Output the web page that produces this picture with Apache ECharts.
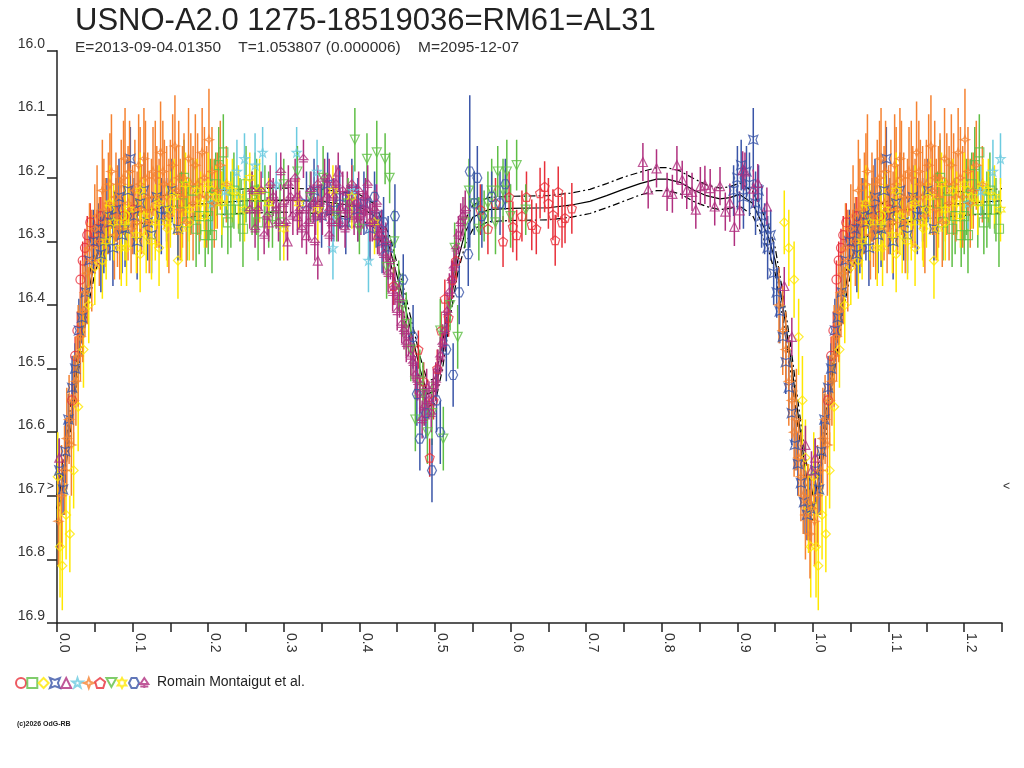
<!DOCTYPE html>
<html>
<head>
<meta charset="utf-8">
<title>USNO-A2.0 1275-18519036</title>
<script src="https://cdn.jsdelivr.net/npm/echarts@6/dist/echarts.min.js"></script>
<style>
  html, body { margin: 0; padding: 0; background: #fff; }
  #chart { width: 1024px; height: 768px; }
</style>
</head>
<body>
<div id="chart"></div>
<script>
// each point: [phase, magnitude, error]
const redCircle = [
  [0.020,16.55,0.03],[0.024,16.48,0.03],[0.027,16.44,0.03],[0.031,16.36,0.03],[0.034,16.33,0.03],
  [0.037,16.31,0.03],[0.040,16.29,0.03],[0.044,16.27,0.03],[0.048,16.30,0.03],[0.053,16.28,0.03],
  [0.058,16.26,0.03],[0.066,16.27,0.03],[0.075,16.25,0.03],[0.088,16.26,0.03],[0.101,16.25,0.03]
];
const greenSquare = [
  [0.165,16.24,0.05],[0.168,16.20,0.06],[0.172,16.27,0.06],[0.180,16.22,0.05],[0.184,16.28,0.06],
  [0.188,16.26,0.06],[0.196,16.29,0.05],[0.200,16.26,0.06],[0.203,16.23,0.06],[0.205,16.29,0.06],
  [0.210,16.21,0.05],[0.214,16.18,0.06],[0.218,16.25,0.06],[0.220,16.16,0.06],[0.226,16.27,0.05],
  [0.230,16.25,0.06],[0.234,16.22,0.06],[0.242,16.25,0.05],[0.246,16.28,0.06],[0.250,16.21,0.06],
  [0.258,16.24,0.05],[0.262,16.22,0.06],[0.264,16.23,0.06],[0.266,16.27,0.06],[0.275,16.23,0.05],
  [0.280,16.25,0.06],[0.285,16.26,0.05],[0.295,16.27,0.06]
];
const yellowDiamond = [
  [0.001,16.67,0.07],[0.004,16.78,0.08],[0.007,16.81,0.07],[0.012,16.73,0.07],[0.017,16.76,0.06],
  [0.022,16.66,0.06],[0.028,16.56,0.07],[0.035,16.47,0.06],[0.042,16.40,0.06],[0.050,16.34,0.06],
  [0.060,16.33,0.06],[0.092,16.31,0.06],[0.110,16.32,0.06],[0.118,16.29,0.06],[0.135,16.31,0.06],
  [0.146,16.28,0.06],[0.160,16.33,0.06],[0.175,16.27,0.06],[0.205,16.22,0.05],
  [0.962,16.27,0.05],[0.968,16.31,0.06],[0.975,16.36,0.06],[0.981,16.45,0.06],[0.986,16.55,0.07],
  [0.990,16.64,0.06],[0.994,16.72,0.07],[0.997,16.78,0.08]
];
const blueCross = [
  [0.003,16.66,0.05],[0.008,16.69,0.04],[0.011,16.63,0.05],[0.015,16.58,0.04],[0.020,16.53,0.05],
  [0.024,16.50,0.04],[0.029,16.44,0.05],[0.033,16.42,0.04],[0.038,16.38,0.05],[0.043,16.33,0.04],
  [0.048,16.30,0.05],[0.055,16.28,0.04],[0.058,16.32,0.06],[0.062,16.30,0.05],[0.066,16.26,0.06],
  [0.070,16.27,0.06],[0.074,16.31,0.06],[0.078,16.25,0.05],[0.082,16.23,0.06],[0.086,16.29,0.06],
  [0.090,16.28,0.06],[0.094,16.22,0.05],[0.097,16.17,0.05],[0.102,16.26,0.06],[0.106,16.30,0.06],
  [0.110,16.24,0.05],[0.115,16.22,0.06],[0.120,16.27,0.06],[0.125,16.29,0.06],[0.132,16.23,0.05],
  [0.138,16.26,0.06],[0.145,16.25,0.05],[0.152,16.22,0.05],[0.160,16.28,0.05],
  [0.330,16.24,0.05],[0.340,16.22,0.05],[0.350,16.26,0.05],[0.358,16.21,0.05],[0.366,16.25,0.05],
  [0.374,16.23,0.05],[0.382,16.27,0.05],[0.390,16.22,0.05],[0.398,16.25,0.05],[0.406,16.24,0.05],
  [0.414,16.28,0.05],[0.422,16.26,0.05],[0.430,16.30,0.05],[0.438,16.31,0.05],
  [0.895,16.22,0.04],[0.900,16.20,0.05],[0.905,16.18,0.04],[0.908,16.23,0.05],[0.912,16.19,0.04],
  [0.916,16.21,0.05],[0.921,16.14,0.05],[0.924,16.24,0.05],[0.928,16.22,0.04],[0.932,16.26,0.05],
  [0.936,16.28,0.04],[0.940,16.31,0.05],[0.944,16.29,0.04],[0.948,16.35,0.05],[0.952,16.38,0.04],
  [0.956,16.41,0.05],[0.960,16.45,0.04],[0.964,16.49,0.05],[0.968,16.53,0.04],[0.972,16.57,0.05],
  [0.976,16.62,0.04],[0.980,16.65,0.05],[0.984,16.68,0.04],[0.988,16.71,0.05],[0.992,16.73,0.04],
  [0.996,16.72,0.05]
];
const purpleTriangle = [
  [0.003,16.64,0.03],
  [0.280,16.27,0.03],[0.290,16.24,0.03],[0.305,16.30,0.03],[0.318,16.26,0.03],[0.330,16.29,0.03],
  [0.345,16.33,0.03],[0.360,16.20,0.03],[0.372,16.19,0.03],[0.384,16.22,0.03],[0.398,16.27,0.03],
  [0.410,16.25,0.03],[0.424,16.29,0.03],
  [0.775,16.175,0.03],[0.782,16.218,0.03],[0.793,16.185,0.03],[0.807,16.222,0.03],[0.814,16.225,0.03],
  [0.820,16.180,0.03],[0.827,16.203,0.03],[0.833,16.219,0.03],[0.840,16.222,0.03],[0.845,16.250,0.03],
  [0.851,16.213,0.03],[0.857,16.211,0.03],[0.864,16.216,0.03],[0.870,16.245,0.03],[0.877,16.213,0.03],
  [0.884,16.253,0.03],[0.890,16.239,0.03],[0.896,16.277,0.03],[0.903,16.251,0.03],[0.907,16.188,0.03],
  [0.910,16.190,0.03],[0.921,16.217,0.03],[0.927,16.208,0.03],[0.939,16.245,0.03],[0.962,16.37,0.03],
  [0.972,16.45,0.03],[0.990,16.62,0.03],[0.998,16.66,0.03]
];
const cyanStar = [
  [0.205,16.24,0.04],[0.222,16.22,0.04],[0.238,16.19,0.05],[0.248,16.17,0.04],[0.262,16.18,0.05],
  [0.272,16.16,0.04],[0.290,16.21,0.05],[0.317,16.16,0.04],[0.344,16.19,0.05],[0.365,16.31,0.05],
  [0.392,16.22,0.04],[0.412,16.33,0.05]
];
const orangeStar = [
  [0.002,16.74,0.07],[0.006,16.70,0.08],[0.010,16.66,0.07],[0.013,16.61,0.08],[0.016,16.58,0.07],
  [0.019,16.62,0.08],[0.022,16.55,0.07],[0.025,16.52,0.07],[0.028,16.48,0.08],[0.031,16.45,0.07],
  [0.034,16.41,0.08],[0.037,16.38,0.07],[0.040,16.35,0.08],[0.043,16.31,0.07],[0.046,16.33,0.08],
  [0.050,16.28,0.07],[0.053,16.26,0.08],[0.056,16.30,0.07],
  [0.060,16.22,0.08],[0.062,16.25,0.08],[0.064,16.27,0.07],[0.068,16.24,0.08],[0.070,16.21,0.08],
  [0.072,16.19,0.09],[0.076,16.29,0.07],[0.078,16.23,0.07],[0.080,16.26,0.08],[0.083,16.28,0.08],
  [0.085,16.21,0.07],[0.088,16.20,0.09],[0.090,16.17,0.08],[0.094,16.24,0.09],[0.096,16.19,0.08],
  [0.098,16.28,0.07],[0.100,16.25,0.07],[0.103,16.22,0.08],[0.106,16.27,0.08],[0.108,16.18,0.08],
  [0.110,16.21,0.09],[0.112,16.25,0.07],[0.115,16.17,0.08],[0.117,16.20,0.09],[0.120,16.23,0.07],
  [0.122,16.27,0.08],[0.125,16.25,0.08],[0.127,16.19,0.07],[0.130,16.20,0.09],[0.132,16.23,0.08],
  [0.135,16.24,0.07],[0.137,16.16,0.08],[0.140,16.19,0.08],[0.142,16.21,0.07],[0.145,16.23,0.08],
  [0.148,16.26,0.09],[0.150,16.21,0.07],[0.153,16.18,0.08],[0.156,16.15,0.08],[0.158,16.22,0.07],
  [0.161,16.20,0.09],[0.163,16.25,0.08],[0.166,16.23,0.08],[0.168,16.20,0.07],[0.171,16.27,0.07],
  [0.174,16.17,0.08],[0.177,16.21,0.08],[0.180,16.24,0.09],[0.183,16.18,0.08],[0.186,16.21,0.08],
  [0.189,16.23,0.07],[0.192,16.16,0.07],[0.195,16.20,0.08],[0.198,16.23,0.08],[0.201,16.14,0.08],
  [0.205,16.19,0.07],[0.208,16.24,0.07],[0.212,16.22,0.06],[0.216,16.18,0.07],[0.224,16.21,0.06],
  [0.955,16.40,0.06],[0.960,16.44,0.07],[0.964,16.47,0.06],[0.968,16.52,0.07],[0.972,16.55,0.06],
  [0.975,16.60,0.07],[0.978,16.58,0.08],[0.981,16.64,0.06],[0.984,16.67,0.07],[0.987,16.70,0.06],
  [0.990,16.73,0.07],[0.993,16.71,0.06],[0.996,16.76,0.07],[0.998,16.72,0.06]
];
const redPentagon = [
  [0.445,16.37,0.03],[0.478,16.47,0.03],[0.485,16.52,0.03],[0.493,16.64,0.03],[0.498,16.55,0.03],
  [0.503,16.50,0.03],[0.508,16.44,0.03],[0.513,16.39,0.03],[0.518,16.42,0.03],[0.523,16.36,0.03],
  [0.528,16.33,0.03],[0.560,16.25,0.04],[0.570,16.28,0.04],[0.580,16.24,0.04],[0.590,16.30,0.04],
  [0.598,16.23,0.04],[0.603,16.277,0.04],[0.608,16.29,0.04],[0.615,16.26,0.04],[0.621,16.23,0.04],
  [0.628,16.274,0.04],[0.634,16.28,0.04],[0.639,16.224,0.04],[0.645,16.214,0.04],[0.650,16.24,0.04],
  [0.656,16.258,0.04],[0.659,16.298,0.04],[0.663,16.222,0.04],[0.668,16.27,0.04],[0.672,16.263,0.04],
  [0.681,16.248,0.04]
];
const greenTriangleDown = [
  [0.300,16.21,0.04],[0.318,16.19,0.04],[0.335,16.23,0.04],[0.352,16.20,0.05],[0.370,16.26,0.04],
  [0.385,16.24,0.04],[0.394,16.14,0.05],[0.400,16.28,0.04],[0.410,16.17,0.04],[0.423,16.16,0.05],
  [0.434,16.17,0.04],[0.440,16.20,0.04],[0.436,16.34,0.05],[0.446,16.30,0.05],[0.452,16.37,0.04],
  [0.457,16.40,0.05],[0.462,16.43,0.05],[0.468,16.47,0.05],[0.474,16.58,0.05],[0.480,16.52,0.05],
  [0.484,16.54,0.05],[0.490,16.60,0.05],[0.496,16.57,0.05],[0.507,16.44,0.05],[0.511,16.61,0.05],
  [0.520,16.40,0.04],[0.526,16.31,0.04],[0.530,16.45,0.05],[0.540,16.27,0.04],[0.545,16.22,0.05],
  [0.552,16.24,0.05],[0.558,16.28,0.05],[0.565,16.26,0.04],[0.570,16.24,0.05],[0.575,16.22,0.05],
  [0.580,16.27,0.05],[0.583,16.19,0.04],[0.590,16.22,0.05],[0.595,16.19,0.05],[0.600,16.26,0.05],
  [0.608,16.18,0.04],[0.620,16.25,0.04]
];
const yellowSixStar = [
  [0.065,16.30,0.06],[0.070,16.24,0.06],[0.075,16.27,0.06],[0.085,16.31,0.06],[0.090,16.27,0.06],
  [0.095,16.25,0.06],[0.105,16.29,0.06],[0.110,16.22,0.06],[0.115,16.26,0.06],[0.125,16.30,0.06],
  [0.130,16.27,0.06],[0.135,16.24,0.06],[0.145,16.27,0.06],[0.150,16.25,0.06],[0.155,16.23,0.06],
  [0.165,16.28,0.05],[0.170,16.21,0.05],[0.175,16.25,0.05],[0.185,16.22,0.05],[0.190,16.24,0.05],
  [0.195,16.26,0.05],[0.200,16.21,0.05],[0.210,16.23,0.05],[0.218,16.24,0.05],[0.225,16.21,0.04],
  [0.232,16.22,0.05],[0.240,16.23,0.05],[0.248,16.25,0.05],[0.255,16.20,0.04],[0.262,16.23,0.05],
  [0.268,16.22,0.05],[0.280,16.24,0.04],[0.300,16.28,0.05],[0.320,16.24,0.04],[0.345,16.25,0.05],
  [0.365,16.22,0.04],[0.390,16.23,0.05],[0.420,16.27,0.05]
];
const blueHexagon = [
  [0.420,16.23,0.04],[0.432,16.27,0.04],[0.447,16.26,0.05],[0.458,16.36,0.04],[0.471,16.45,0.05],
  [0.476,16.54,0.05],[0.480,16.61,0.05],[0.488,16.57,0.04],[0.496,16.66,0.05],[0.502,16.55,0.05],
  [0.507,16.60,0.05],[0.515,16.47,0.05],[0.524,16.51,0.05],[0.532,16.38,0.05],[0.544,16.32,0.05],
  [0.546,16.19,0.12],[0.552,16.24,0.05],[0.556,16.20,0.05],[0.562,16.26,0.05],[0.575,16.23,0.04],
  [0.586,16.24,0.05],[0.593,16.21,0.04]
];
const purpleTree = [
  [0.255,16.25,0.03],[0.258,16.22,0.03],[0.262,16.28,0.03],[0.266,16.25,0.03],[0.270,16.22,0.03],
  [0.274,16.29,0.03],[0.278,16.26,0.03],[0.282,16.21,0.03],[0.286,16.23,0.03],[0.290,16.25,0.03],
  [0.293,16.27,0.03],[0.296,16.19,0.03],[0.300,16.24,0.03],[0.303,16.27,0.03],[0.306,16.21,0.03],
  [0.309,16.23,0.03],[0.312,16.26,0.03],[0.315,16.20,0.03],[0.318,16.23,0.03],[0.321,16.25,0.03],
  [0.324,16.28,0.03],[0.326,16.17,0.03],[0.330,16.25,0.03],[0.333,16.27,0.03],[0.336,16.22,0.03],
  [0.339,16.24,0.03],[0.341,16.30,0.03],[0.342,16.26,0.03],[0.345,16.21,0.03],[0.348,16.24,0.03],
  [0.351,16.26,0.03],[0.354,16.20,0.03],[0.357,16.23,0.03],[0.360,16.25,0.03],[0.360,16.29,0.03],
  [0.363,16.27,0.03],[0.366,16.23,0.03],[0.369,16.21,0.03],[0.372,16.27,0.03],[0.375,16.25,0.03],
  [0.378,16.22,0.03],[0.381,16.28,0.03],[0.384,16.25,0.03],[0.387,16.24,0.03],[0.390,16.21,0.03],
  [0.393,16.26,0.03],[0.396,16.24,0.03],[0.399,16.22,0.03],[0.402,16.26,0.03],[0.405,16.25,0.03],
  [0.408,16.23,0.03],[0.411,16.21,0.03],[0.414,16.27,0.03],[0.417,16.27,0.03],[0.420,16.25,0.03],
  [0.423,16.24,0.03],[0.426,16.29,0.03],[0.429,16.28,0.03],[0.432,16.32,0.03],[0.435,16.30,0.03],
  [0.438,16.35,0.03],[0.441,16.33,0.03],[0.444,16.38,0.03],[0.447,16.37,0.03],[0.450,16.41,0.03],
  [0.453,16.39,0.03],[0.456,16.43,0.03],[0.459,16.44,0.03],[0.462,16.46,0.03],[0.465,16.45,0.03],
  [0.468,16.48,0.03],[0.471,16.49,0.03],[0.474,16.51,0.03],[0.477,16.52,0.03],[0.480,16.54,0.03],
  [0.483,16.58,0.03],[0.486,16.56,0.03],[0.489,16.53,0.03],[0.492,16.55,0.03],[0.495,16.57,0.03],
  [0.498,16.53,0.03],[0.501,16.52,0.03],[0.504,16.50,0.03],[0.507,16.48,0.03],[0.510,16.46,0.03],
  [0.513,16.44,0.03],[0.516,16.41,0.03],[0.519,16.38,0.03],[0.522,16.36,0.03],[0.525,16.34,0.03],
  [0.528,16.31,0.03],[0.531,16.29,0.03],[0.534,16.27,0.03],[0.537,16.26,0.03],[0.540,16.25,0.03]
];

// fitted light curve and its band
const fitPhase = [0.000,0.010,0.020,0.030,0.040,0.050,0.060,0.070,0.080,0.100,0.150,0.200,0.250,0.300,0.350,
  0.400,0.420,0.440,0.460,0.480,0.490,0.500,0.510,0.520,0.530,0.540,0.550,0.570,0.600,0.650,0.679,0.705,
  0.727,0.749,0.771,0.793,0.807,0.824,0.842,0.859,0.877,0.890,0.903,0.920,0.940,0.950,0.960,0.970,0.980,
  0.990,1.000];
const fitMag = [16.720,16.650,16.560,16.470,16.390,16.330,16.295,16.275,16.265,16.255,16.245,16.240,16.236,16.235,16.237,
  16.245,16.260,16.310,16.400,16.500,16.540,16.535,16.480,16.400,16.330,16.285,16.262,16.250,16.248,16.247,16.243,16.237,
  16.228,16.218,16.209,16.202,16.202,16.207,16.219,16.228,16.233,16.231,16.226,16.240,16.290,16.330,16.400,16.480,16.570,
  16.660,16.720];
const fitUpper = [16.700,16.630,16.540,16.450,16.370,16.310,16.276,16.256,16.246,16.236,16.226,16.221,16.217,16.216,16.218,
  16.226,16.241,16.291,16.380,16.480,16.520,16.515,16.460,16.380,16.310,16.266,16.243,16.231,16.229,16.228,16.224,16.218,
  16.209,16.199,16.191,16.184,16.184,16.189,16.201,16.211,16.216,16.214,16.208,16.221,16.271,16.310,16.380,16.460,16.550,
  16.640,16.700];
const fitLower = [16.740,16.670,16.580,16.490,16.410,16.350,16.314,16.294,16.284,16.274,16.264,16.259,16.255,16.254,16.256,
  16.264,16.279,16.329,16.420,16.520,16.560,16.555,16.500,16.420,16.350,16.304,16.281,16.269,16.267,16.266,16.262,16.256,
  16.247,16.237,16.227,16.220,16.220,16.225,16.237,16.245,16.250,16.248,16.244,16.259,16.309,16.350,16.420,16.500,16.590,
  16.680,16.740];

const xTicks = [0.0,0.1,0.2,0.3,0.4,0.5,0.6,0.7,0.8,0.9,1.0,1.1,1.2];
const yTicks = [16.0,16.1,16.2,16.3,16.4,16.5,16.6,16.7,16.8,16.9];

const sets = [
  { name: 'S1',  data: redCircle,         color: '#e8303a', symbol: 'circle' },
  { name: 'S2',  data: greenSquare,       color: '#5fbf46', symbol: 'rect' },
  { name: 'S3',  data: yellowDiamond,     color: '#ffe800', symbol: 'diamond' },
  { name: 'S4',  data: blueCross,         color: '#3a55a8', symbol: 'path://M0,0L5,2L10,0L8,5L10,10L5,8L0,10L2,5Z' },
  { name: 'S5',  data: purpleTriangle,    color: '#b0307f', symbol: 'triangle' },
  { name: 'S6',  data: cyanStar,          color: '#6ccbe0', symbol: 'path://M5,0L6.2,3.6L10,3.6L7,5.9L8.1,9.5L5,7.3L1.9,9.5L3,5.9L0,3.6L3.8,3.6Z' },
  { name: 'S7',  data: orangeStar,        color: '#f58231', symbol: 'path://M5,0L6.3,3.7L10,5L6.3,6.3L5,10L3.7,6.3L0,5L3.7,3.7Z' },
  { name: 'S8',  data: redPentagon,       color: '#e8303a', symbol: 'path://M5,0L10,3.8L8.1,10L1.9,10L0,3.8Z' },
  { name: 'S9',  data: greenTriangleDown, color: '#5fbf46', symbol: 'path://M0,0L10,0L5,9Z' },
  { name: 'S10', data: yellowSixStar,     color: '#ffe800', symbol: 'path://M5,0L6.3,2.5L9.3,2.5L7.6,5L9.3,7.5L6.3,7.5L5,10L3.7,7.5L0.7,7.5L2.4,5L0.7,2.5L3.7,2.5Z' },
  { name: 'S11', data: blueHexagon,       color: '#3a55a8', symbol: 'path://M2.5,0L7.5,0L10,5L7.5,10L2.5,10L0,5Z' },
  { name: 'S12', data: purpleTree,        color: '#b0307f', symbol: 'path://M5,0L9,6L1,6Z M5,6L5,10 M1,8.5L9,8.5' }
];

// phases below 0.25 are shown again one cycle later
function fold(points) {
  return points.concat(points.filter(p => p[0] < 0.25).map(p => [p[0] + 1, p[1], p[2]]));
}
function foldCurve(mags) {
  const out = fitPhase.map((p, i) => [p, mags[i]]);
  fitPhase.forEach((p, i) => { if (p > 0 && p <= 0.25) out.push([p + 1, mags[i]]); });
  return out;
}

const FONT = 'Liberation Sans, Arial, sans-serif';
const chart = echarts.init(document.getElementById('chart'));

const series = [
  { type: 'line', data: foldCurve(fitMag), showSymbol: false, silent: true, clip: true,
    lineStyle: { color: '#000', width: 1.2 }, z: 1 },
  { type: 'line', data: foldCurve(fitUpper), showSymbol: false, silent: true, clip: true,
    lineStyle: { color: '#000', width: 1.2, type: [7, 3, 2, 3] }, z: 1 },
  { type: 'line', data: foldCurve(fitLower), showSymbol: false, silent: true, clip: true,
    lineStyle: { color: '#000', width: 1.2, type: [7, 3, 2, 3] }, z: 1 }
];

sets.forEach(s => {
  const pts = fold(s.data);
  series.push({
    type: 'custom',
    name: s.name + '-err',
    data: pts,
    encode: { x: 0, y: 1 },
    clip: true,
    silent: true,
    z: 2,
    renderItem: (params, api) => {
      const x = api.value(0), y = api.value(1), e = api.value(2);
      const a = api.coord([x, y - e]);
      const b = api.coord([x, y + e]);
      return { type: 'line', shape: { x1: a[0], y1: a[1], x2: b[0], y2: b[1] },
        style: { stroke: s.color, lineWidth: 1.5 } };
    }
  });
  series.push({
    type: 'scatter',
    name: s.name,
    data: pts,
    symbol: s.symbol,
    symbolSize: 9,
    clip: true,
    silent: true,
    z: 2,
    itemStyle: { color: 'rgba(0,0,0,0)', borderColor: s.color, borderWidth: 1.2 }
  });
});

chart.setOption({
  animation: false,
  backgroundColor: '#fff',
  grid: { left: 57, right: 22, top: 50.7, bottom: 145, containLabel: false },
  xAxis: {
    type: 'value',
    min: 0, max: 1.25, interval: 0.05,
    splitLine: { show: false },
    axisLine: { onZero: false, lineStyle: { color: '#222', width: 1.5 } },
    axisTick: { length: 9, lineStyle: { color: '#222', width: 1.5 } },
    axisLabel: {
      interval: 0, rotate: -90, margin: 10, verticalAlign: 'bottom',
      color: '#333', fontSize: 14, fontFamily: FONT,
      formatter: v => {
        const t = xTicks.find(k => Math.abs(k - v) < 1e-6);
        return t === undefined ? '' : t.toFixed(1);
      }
    }
  },
  yAxis: {
    type: 'value',
    inverse: true,
    min: 16.0, max: 16.9, interval: 0.1,
    splitLine: { show: false },
    axisLine: { onZero: false, lineStyle: { color: '#222', width: 1.5 } },
    axisTick: { length: 10, lineStyle: { color: '#222', width: 1.5 } },
    axisLabel: {
      margin: 12, verticalAlign: 'bottom', color: '#333', fontSize: 14, fontFamily: FONT,
      formatter: v => {
        const t = yTicks.find(k => Math.abs(k - v) < 1e-6);
        return t === undefined ? '' : t.toFixed(1);
      }
    }
  },
  legend: sets.map((s, i) => ({
    data: [s.name],
    left: 15 + i * 11.3,
    top: 677,
    itemWidth: 10,
    itemHeight: 10,
    padding: 0,
    selectedMode: false,
    formatter: () => '',
    textStyle: { fontSize: 1 }
  })),
  graphic: [
    { type: 'text', left: 75, top: 6,
      style: { text: 'USNO-A2.0 1275-18519036=RM61=AL31', font: '31px ' + FONT, fill: '#222' } },
    { type: 'text', left: 75, top: 40,
      style: { text: 'E=2013-09-04.01350    T=1.053807 (0.000006)    M=2095-12-07', font: '15.5px ' + FONT, fill: '#333' } },
    { type: 'text', left: 47, top: 481,
      style: { text: '>', font: '12px ' + FONT, fill: '#333' } },
    { type: 'text', left: 1003, top: 481,
      style: { text: '<', font: '12px ' + FONT, fill: '#333' } },
    { type: 'text', left: 157, top: 675,
      style: { text: 'Romain Montaigut et al.', font: '14px ' + FONT, fill: '#222' } },
    { type: 'text', left: 17, top: 721,
      style: { text: '(c)2026 OdG-RB', font: 'bold 7px ' + FONT, fill: '#222' } }
  ],
  series: series
});
</script>
</body>
</html>
